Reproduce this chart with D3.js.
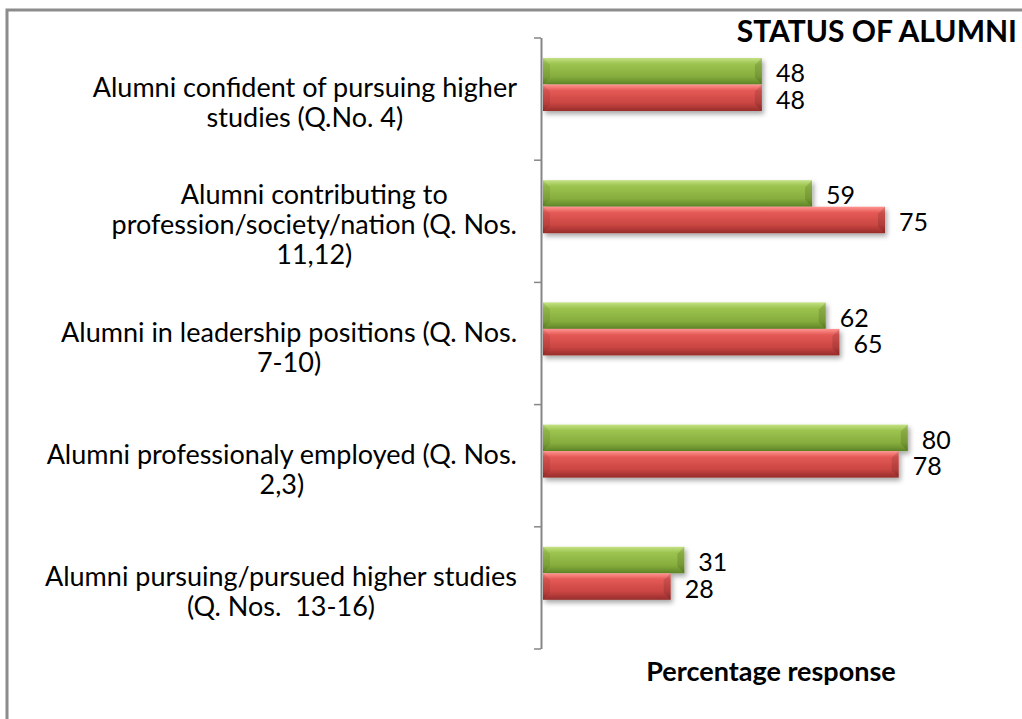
<!DOCTYPE html>
<html>
<head>
<meta charset="utf-8">
<script src="https://cdn.jsdelivr.net/npm/d3@7/dist/d3.min.js"></script>
<style>
  html, body { margin: 0; padding: 0; background: #fff; }
  svg { display: block; }
  text { font-family: Lato, 'Open Sans', sans-serif; fill: #000; }
</style>
</head>
<body>
<div id="plot"></div>
<script>
'use strict';

const categories = [
  ['Alumni confident of pursuing higher', 'studies (Q.No. 4)'],
  ['Alumni contributing to', 'profession/society/nation (Q. Nos.', '11,12)'],
  ['Alumni in leadership positions (Q. Nos.', '7-10)'],
  ['Alumni professionaly employed (Q. Nos.', '2,3)'],
  ['Alumni pursuing/pursued higher studies', '(Q. Nos.  13-16)']
]
const seriesA = [48, 59, 62, 80, 31]   // green
const seriesB = [48, 75, 65, 78, 28]   // red
const title = 'STATUS OF ALUMNI'
const axisTitle = 'Percentage response'

let width = 1022, height = 719
let col = {
  green: ['#c4e184', '#9cc44f', '#86ad3d', '#5e8427'],
  red: ['#ff9591', '#e55a56', '#c94542', '#962c2a']
}

let svg = d3.select('#plot').append('svg')
  .attr('width', width)
  .attr('height', height)

let defs = svg.append('defs')
let grad = function(id, c) {
  let g = defs.append('linearGradient')
    .attr('id', id)
    .attr('x1', 0).attr('y1', 0).attr('x2', 0).attr('y2', 1)
  g.append('stop').attr('offset', '0%').attr('stop-color', c[0])
  g.append('stop').attr('offset', '22%').attr('stop-color', c[1])
  g.append('stop').attr('offset', '70%').attr('stop-color', c[2])
  g.append('stop').attr('offset', '100%').attr('stop-color', c[3])
}
grad('gGreen', col.green)
grad('gRed', col.red)
let shadow = defs.append('filter').attr('id', 'shadow')
  .attr('x', '-5%').attr('y', '-30%').attr('width', '115%').attr('height', '180%')
shadow.append('feDropShadow')
  .attr('dx', 2).attr('dy', 3).attr('stdDeviation', 2.5)
  .attr('flood-color', '#000').attr('flood-opacity', 0.35)

// frame
svg.append('rect')
  .attr('x', 7).attr('y', 10)
  .attr('width', 1040).attr('height', 740)
  .attr('fill', 'none')
  .attr('stroke', '#8c8c8c')
  .attr('stroke-width', 3)

let x = d3.scaleLinear()
  .domain([0, 100])
  .range([543, 999])
let y = d3.scaleBand()
  .domain(d3.range(categories.length))
  .range([38, 649])
let inner = d3.scaleBand()
  .domain(['a', 'b'])
  .range([20, 73])

// axis line and ticks at category boundaries
svg.append('line')
  .attr('x1', 541.5).attr('x2', 541.5)
  .attr('y1', y.range()[0]).attr('y2', y.range()[1])
  .attr('stroke', '#868686').attr('stroke-width', 2)
svg.append('g')
  .selectAll('line')
  .data(d3.range(categories.length + 1))
  .enter()
  .append('line')
  .attr('x1', 534).attr('x2', 541)
  .attr('y1', d => 38 + d * y.step())
  .attr('y2', d => 38 + d * y.step())
  .attr('stroke', '#868686').attr('stroke-width', 1.5)

// category labels
let labelSize = 27, lineGap = 30
let lab = svg.append('g')
  .selectAll('g')
  .data(categories)
  .enter()
  .append('g')
lab.each(function(lines, i) {
  let g = d3.select(this)
  let t = g.selectAll('text')
    .data(lines)
    .enter()
    .append('text')
    .attr('font-size', labelSize + 'px')
    .attr('text-anchor', 'middle')
    .attr('xml:space', 'preserve')
    .text(d => d)
  let w = d3.max(t.nodes(), n => n.getComputedTextLength())
  let cx = 517 - w / 2
  let cy = y(i) + y.bandwidth() / 2
  t.attr('x', cx)
    .attr('y', (d, j) => cy + (j - (lines.length - 1) / 2) * lineGap + 13)
})

// bars
let bar = function(values, key, fill) {
  let g = svg.append('g')
  g.selectAll('rect')
    .data(values)
    .enter()
    .append('rect')
    .attr('x', x(0))
    .attr('y', (d, i) => y(i) + inner(key))
    .attr('width', d => x(d) - x(0))
    .attr('height', inner.bandwidth())
    .attr('fill', 'url(#' + fill + ')')
    .attr('filter', 'url(#shadow)')
  // bevel ends
  g.selectAll('path.bevel')
    .data(values)
    .enter()
    .append('path')
    .attr('class', 'bevel')
    .attr('d', function(d, i) {
      let y0 = y(i) + inner(key), h = inner.bandwidth(), x1 = x(d), b = 7
      return `M${x1},${y0} L${x1 - b},${y0 + b} L${x1 - b},${y0 + h - b} L${x1},${y0 + h} Z`
    })
    .attr('fill', '#000').attr('fill-opacity', 0.12)
  g.selectAll('path.bevelL')
    .data(values)
    .enter()
    .append('path')
    .attr('class', 'bevelL')
    .attr('d', function(d, i) {
      let y0 = y(i) + inner(key), h = inner.bandwidth(), x0 = x(0), b = 7
      return `M${x0},${y0} L${x0 + b},${y0 + b} L${x0 + b},${y0 + h - b} L${x0},${y0 + h} Z`
    })
    .attr('fill', '#000').attr('fill-opacity', 0.08)
  g.selectAll('text')
    .data(values)
    .enter()
    .append('text')
    .attr('x', d => x(d) + 14)
    .attr('y', (d, i) => y(i) + inner(key) + inner.bandwidth() / 2 + 11)
    .attr('font-size', '25px')
    .text(d => d)
}
bar(seriesA, 'a', 'gGreen')
bar(seriesB, 'b', 'gRed')

svg.append('text')
  .attr('x', 1017)
  .attr('y', 42)
  .attr('text-anchor', 'end')
  .attr('font-size', '30px')
  .attr('font-weight', 'bold')
  .text(title)

svg.append('text')
  .attr('x', 771)
  .attr('y', 681)
  .attr('text-anchor', 'middle')
  .attr('font-size', '27px')
  .attr('font-weight', 'bold')
  .text(axisTitle)
</script>
</body>
</html>
